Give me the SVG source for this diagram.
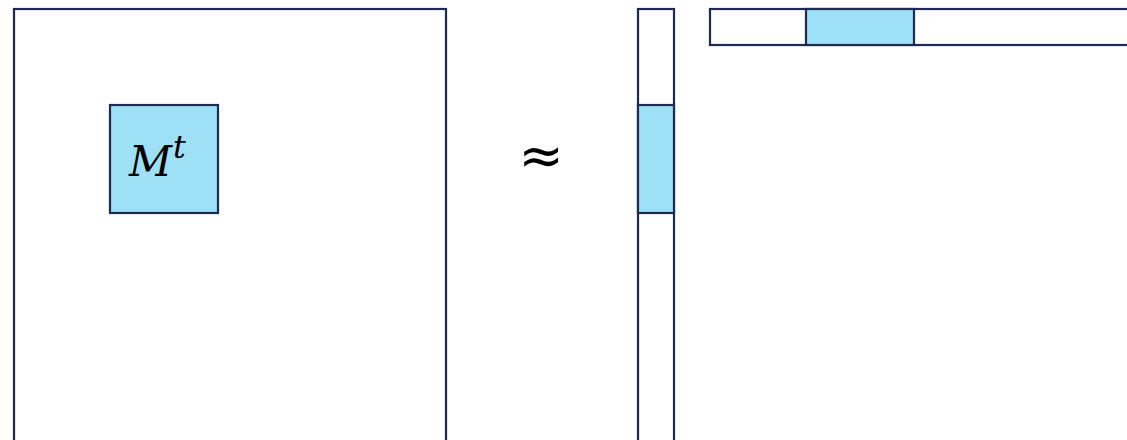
<svg xmlns="http://www.w3.org/2000/svg" width="1127" height="440" viewBox="0 0 1127 440">
<style>
.box{fill:#ffffff;stroke:#1f2a54;stroke-width:2.2}
.hl{fill:#9ee0f6;stroke:#1f2a54;stroke-width:2.2}
.math{font-family:"DejaVu Serif","Liberation Serif",serif;font-style:italic;fill:#000}
</style>
<rect width="1127" height="440" fill="#ffffff"/>
<g id="matrix">
<rect class="box" x="14" y="9" width="432" height="434"/>
<g id="block">
<rect class="hl" x="110" y="105" width="108" height="108"/>
<text class="math" x="129" y="176" font-size="42">M<tspan font-size="32" dx="1" dy="-18">t</tspan></text>
</g>
</g>
<g id="approx">
<text x="541" y="174" font-family="DejaVu Sans,sans-serif" font-size="54" text-anchor="middle" fill="#000">≈</text>
</g>
<g id="colvec">
<rect class="box" x="638" y="9" width="36" height="434"/>
<rect class="hl" x="638" y="105" width="36" height="108"/>
</g>
<g id="rowvec">
<rect class="box" x="710" y="9" width="420" height="36"/>
<rect class="hl" x="806" y="9" width="108" height="36"/>
</g>
<g id="connectors"/>
</svg>
